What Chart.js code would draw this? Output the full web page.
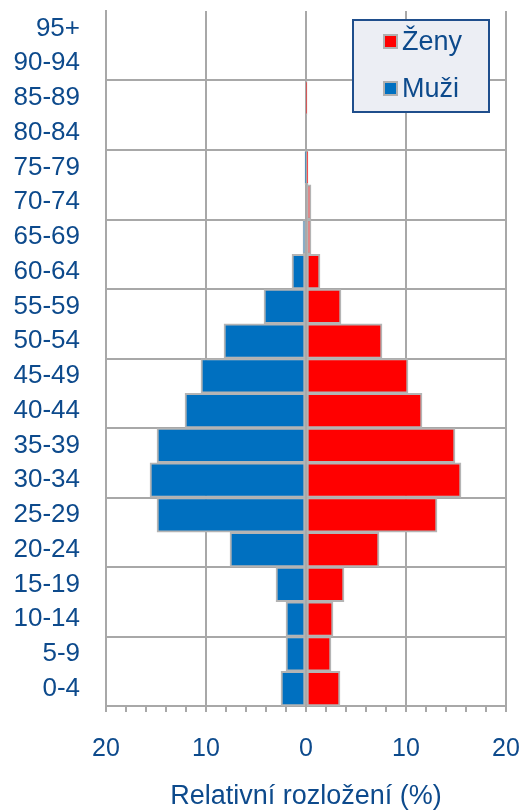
<!DOCTYPE html>
<html><head><meta charset="utf-8">
<script src="https://cdn.jsdelivr.net/npm/chart.js@4"></script>
<style>html,body{margin:0;padding:0;background:#fff}#wrap{width:523px;height:810px;position:relative}</style>
</head><body><div id="wrap"><canvas id="c"></canvas></div>
<script>
const ageGroups = ['0-4','5-9','10-14','15-19','20-24','25-29','30-34','35-39','40-44','45-49','50-54','55-59','60-64','65-69','70-74','75-79','80-84','85-89','90-94','95+'];
const menPct =   [2.5, 2.0, 2.0, 3.0, 7.6, 14.9, 15.6, 14.9, 12.1, 10.5, 8.2, 4.2, 1.4, 0.3, 0.1, 0.05, 0, 0, 0, 0];
const womenPct = [3.4, 2.5, 2.7, 3.8, 7.3, 13.1, 15.5, 14.9, 11.6, 10.2, 7.6, 3.5, 1.4, 0.5, 0.5, 0.2, 0.1, 0.05, 0, 0];
const seriesNames = ['Ženy', 'Muži'];
const seriesColors = ['#ff0000', '#0070c0'];
const xMin = -20, xMax = 20, xStep = 2, xLabelStep = 10;
const axisTitle = 'Relativní rozložení (%)';

const textColor = '#0d4a8c';
const gridColor = '#a8a8a8';
const FONT = "'Liberation Sans', Arial, sans-serif";

const legendPlugin = {
  id: 'boxLegend',
  afterDraw(chart) {
    const ctx = chart.ctx, ca = chart.chartArea;
    const x0 = ca.right - 153, y0 = ca.top + 9, w = 136, h = 92;
    ctx.save();
    ctx.fillStyle = '#eceef4';
    ctx.fillRect(x0, y0, w, h);
    ctx.strokeStyle = '#1f4e8c';
    ctx.lineWidth = 2;
    ctx.strokeRect(x0, y0, w, h);
    ctx.font = '27px ' + FONT;
    ctx.textBaseline = 'middle';
    chart.data.datasets.forEach((ds, i) => {
      const cy = y0 + 22 + i * 47;
      ctx.fillStyle = ds.backgroundColor;
      ctx.strokeStyle = '#b0b0b0';
      ctx.lineWidth = 2;
      ctx.fillRect(x0 + 31, cy - 7, 13, 13);
      ctx.strokeRect(x0 + 31, cy - 7, 13, 13);
      ctx.fillStyle = textColor;
      ctx.fillText(ds.label, x0 + 49, cy + 1);
    });
    ctx.restore();
  }
};

new Chart(document.getElementById('c'), {
  type: 'bar',
  data: {
    labels: ageGroups,
    datasets: [
      { label: seriesNames[0], data: womenPct, backgroundColor: seriesColors[0] },
      { label: seriesNames[1], data: menPct.map(v => -v), backgroundColor: seriesColors[1] }
    ]
  },
  options: {
    indexAxis: 'y',
    responsive: true,
    maintainAspectRatio: false,
    animation: false,
    devicePixelRatio: 1,
    layout: { padding: { left: 0, right: 17, top: 11, bottom: 0 } },
    datasets: { bar: { barPercentage: 1, categoryPercentage: 1, borderColor: '#b4b4b4', borderWidth: 2, borderSkipped: false } },
    plugins: { legend: { display: false }, tooltip: { enabled: false } },
    scales: {
      x: {
        stacked: true, min: xMin, max: xMax,
        ticks: {
          stepSize: xStep, autoSkip: false, maxRotation: 0,
          color: textColor, font: { family: FONT, size: 25 }, padding: 22,
          callback: v => (v % xLabelStep === 0 ? String(Math.abs(v)) : '')
        },
        grid: {
          color: c => (c.tick && c.tick.value % xLabelStep === 0 ? gridColor : 'transparent'),
          tickColor: gridColor, lineWidth: 2, tickLength: 6
        },
        border: { color: gridColor, width: 2 },
        title: { display: true, text: axisTitle, color: textColor, font: { family: FONT, size: 27 }, padding: { top: 0, bottom: -3 } },
        afterFit: s => { s.height = 104; s.paddingLeft = 0; s.paddingRight = 0; }
      },
      y: {
        stacked: true, reverse: true,
        ticks: { color: textColor, font: { family: FONT, size: 26 }, padding: 26, autoSkip: false },
        grid: {
          offset: true, drawTicks: false, lineWidth: 2,
          color: c => (c.index % 2 === 0 ? gridColor : 'transparent')
        },
        border: { color: gridColor, width: 2 },
        afterFit: s => { s.width = 106; s.paddingTop = 0; s.paddingBottom = 0; }
      }
    }
  },
  plugins: [legendPlugin]
});
</script>
</body></html>
